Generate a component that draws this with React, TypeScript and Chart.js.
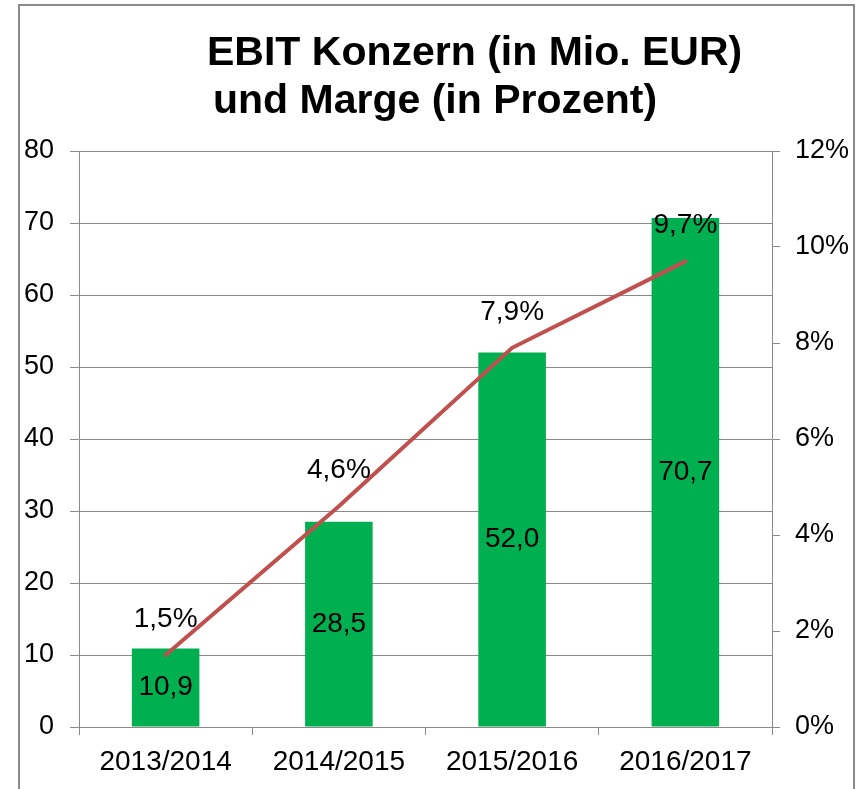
import React, { useEffect, useRef } from "react";
import { Chart, registerables } from "chart.js";

Chart.register(...registerables);

// ---- data ----
const categories = ["2013/2014", "2014/2015", "2015/2016", "2016/2017"];
const ebitValues = [10.9, 28.5, 52.0, 70.7]; // Mio. EUR (left axis)
const marginValues = [1.5, 4.6, 7.9, 9.7]; // percent (right axis)
const titleLines = ["EBIT Konzern (in Mio. EUR)", "und Marge (in Prozent)"];
const leftAxisMax = 80;
const leftAxisStep = 10;
const rightAxisMax = 12;
const rightAxisStep = 2;

const FONT = "'Liberation Sans', Arial, sans-serif";
const GRID = "#8a8a8a";
const fmt = (v: number) => v.toFixed(1).replace(".", ",");

const titlePlugin = {
  id: "customTitle",
  afterDraw(chart: any) {
    const ctx = chart.ctx;
    ctx.save();
    ctx.fillStyle = "#000";
    ctx.font = `bold 41px ${FONT}`;
    ctx.textAlign = "left";
    ctx.textBaseline = "alphabetic";
    ctx.fillText(titleLines[0], 207, 65);
    ctx.fillText(titleLines[1], 213, 113);
    ctx.restore();
  },
};

const valueLabelPlugin = {
  id: "valueLabels",
  afterDatasetsDraw(chart: any) {
    const ctx = chart.ctx;
    ctx.save();
    ctx.fillStyle = "#000";
    ctx.font = `28px ${FONT}`;
    ctx.textAlign = "center";
    ctx.textBaseline = "middle";
    const barMeta = chart.getDatasetMeta(1);
    barMeta.data.forEach((el: any, i: number) => {
      const p = el.getProps(["x", "y", "base"], true);
      ctx.fillText(fmt(ebitValues[i]), p.x, (p.y + p.base) / 2);
    });
    const lineMeta = chart.getDatasetMeta(0);
    lineMeta.data.forEach((el: any, i: number) => {
      ctx.fillText(fmt(marginValues[i]) + "%", el.x, el.y - 36);
    });
    ctx.restore();
  },
};

export default function App() {
  const ref = useRef<HTMLCanvasElement | null>(null);

  useEffect(() => {
    if (!ref.current) return;
    const chart = new Chart(ref.current, {
      type: "bar",
      data: {
        labels: categories,
        datasets: [
          {
            type: "line",
            label: "Marge",
            data: marginValues,
            yAxisID: "y1",
            borderColor: "#C0504D",
            borderWidth: 4,
            pointRadius: 0,
            tension: 0,
            borderCapStyle: "round",
            order: 0,
          } as any,
          {
            type: "bar",
            label: "EBIT",
            data: ebitValues,
            yAxisID: "y",
            backgroundColor: "#00B050",
            borderWidth: 0,
            barPercentage: 0.39,
            categoryPercentage: 1,
            order: 1,
          },
        ],
      },
      options: {
        responsive: false,
        animation: false,
        events: [],
        layout: { padding: { top: 151, left: 0, right: 0, bottom: 0 } },
        plugins: {
          legend: { display: false },
          title: { display: false },
          tooltip: { enabled: false },
        },
        scales: {
          x: {
            offset: true,
            grid: {
              display: true,
              offset: true,
              drawOnChartArea: false,
              drawTicks: true,
              tickLength: 8,
              color: GRID,
            },
            border: { display: true, color: GRID },
            ticks: {
              color: "#000",
              font: { family: FONT, size: 28 },
              padding: 10,
              maxRotation: 0,
            },
            afterFit: (s: any) => {
              s.height = 62;
            },
          },
          y: {
            position: "left",
            min: 0,
            max: leftAxisMax,
            grid: { color: GRID, tickLength: 9, drawTicks: true },
            border: { display: true, color: GRID },
            ticks: {
              stepSize: leftAxisStep,
              color: "#000",
              font: { family: FONT, size: 27 },
              padding: 16,
            },
            afterFit: (s: any) => {
              s.width = 79;
            },
          },
          y1: {
            position: "right",
            min: 0,
            max: rightAxisMax,
            grid: { drawOnChartArea: false, tickLength: 8, color: GRID },
            border: { display: true, color: GRID },
            ticks: {
              stepSize: rightAxisStep,
              color: "#000",
              font: { family: FONT, size: 27 },
              padding: 15,
              callback: (v: any) => `${v}%`,
            },
            afterFit: (s: any) => {
              s.width = 89;
            },
          },
        },
      },
      plugins: [titlePlugin, valueLabelPlugin],
    });
    return () => chart.destroy();
  }, []);

  return (
    <div
      style={{
        position: "absolute",
        left: 0,
        top: 0,
        width: 861,
        height: 789,
        overflow: "hidden",
        background: "#fff",
      }}
    >
      <div
        style={{
          position: "absolute",
          left: 18,
          top: 4,
          width: 833,
          height: 800,
          border: "2px solid #8a8a8a",
        }}
      />
      <canvas
        ref={ref}
        width={861}
        height={789}
        style={{ position: "absolute", left: 0, top: 0, width: 861, height: 789 }}
      />
    </div>
  );
}
